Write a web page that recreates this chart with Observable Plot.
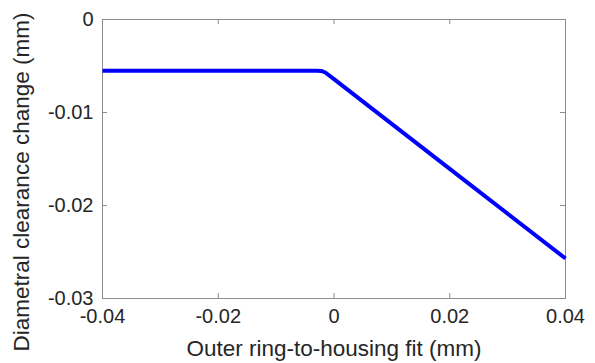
<!DOCTYPE html>
<html>
<head>
<meta charset="utf-8">
<script src="https://cdn.jsdelivr.net/npm/d3@7"></script>
<script src="https://cdn.jsdelivr.net/npm/@observablehq/plot@0.6"></script>
<style>
  html, body { margin: 0; padding: 0; background: #fff; }
  #chart svg { display: block; }
</style>
</head>
<body>
<div id="chart"></div>
<script>
// Outer ring-to-housing fit (mm) and resulting diametral clearance change (mm)
const fit       = [-0.04, -0.003, -0.0022, -0.0015, 0, 0.02, 0.04];
const clearance = [-0.0055, -0.0055, -0.00553, -0.0057, -0.00642, -0.01606, -0.0257];

const xTicks = [-0.04, -0.02, 0, 0.02, 0.04];
const yTicks = [0, -0.01, -0.02, -0.03];
const xTickLabels = ["-0.04", "-0.02", "0", "0.02", "0.04"];
const yTickLabels = ["0", "-0.01", "-0.02", "-0.03"];
const xTitle = "Outer ring-to-housing fit (mm)";
const yTitle = "Diametral clearance change (mm)";

const rows = fit.map((x, i) => ({x, y: clearance[i]}));

const W = 595, H = 363;
const mL = 102, mR = 30, mT = 19, mB = 65;
const innerW = W - mL - mR, innerH = H - mT - mB;
const tickLen = 5;
const boxColor = "#8c8c8c";
const textColor = "#262626";

const chart = Plot.plot({
  width: W,
  height: H,
  marginLeft: mL,
  marginRight: mR,
  marginTop: mT,
  marginBottom: mB,
  style: {fontFamily: "'Liberation Sans', Arial, sans-serif", color: textColor, background: "#fff"},
  x: {domain: [-0.04, 0.04]},
  y: {domain: [-0.03, 0]},
  marks: [
    // inward ticks on all four sides
    Plot.ruleX(xTicks, {x: d => d, stroke: boxColor, strokeWidth: 1, insetTop: innerH - tickLen}),
    Plot.ruleX(xTicks, {x: d => d, stroke: boxColor, strokeWidth: 1, insetBottom: innerH - tickLen}),
    Plot.ruleY(yTicks, {y: d => d, stroke: boxColor, strokeWidth: 1, insetRight: innerW - tickLen}),
    Plot.ruleY(yTicks, {y: d => d, stroke: boxColor, strokeWidth: 1, insetLeft: innerW - tickLen}),
    Plot.frame({stroke: boxColor, strokeWidth: 1}),
    Plot.line(rows, {x: "x", y: "y", stroke: "#0000ff", strokeWidth: 4, strokeLinejoin: "round", strokeLinecap: "butt"}),
    Plot.axisX(xTicks, {
      anchor: "bottom", tickSize: 0, tickPadding: 10, fontSize: 20,
      fill: textColor,
      tickFormat: d => xTickLabels[xTicks.indexOf(d)],
      label: null
    }),
    Plot.axisY(yTicks, {
      anchor: "left", tickSize: 0, tickPadding: 9, fontSize: 20,
      fill: textColor,
      tickFormat: d => yTickLabels[yTicks.indexOf(d)],
      label: null
    }),
    // axis titles
    Plot.text([xTitle], {
      frameAnchor: "bottom", text: d => d, dy: 57, fontSize: 22.5, fill: textColor
    }),
    Plot.text([yTitle], {
      frameAnchor: "left", textAnchor: "middle", lineAnchor: "middle",
      text: d => d, dx: -81, dy: 23, rotate: -90, fontSize: 22.5, fill: textColor
    })
  ]
});

document.getElementById("chart").append(chart);
</script>
</body>
</html>
